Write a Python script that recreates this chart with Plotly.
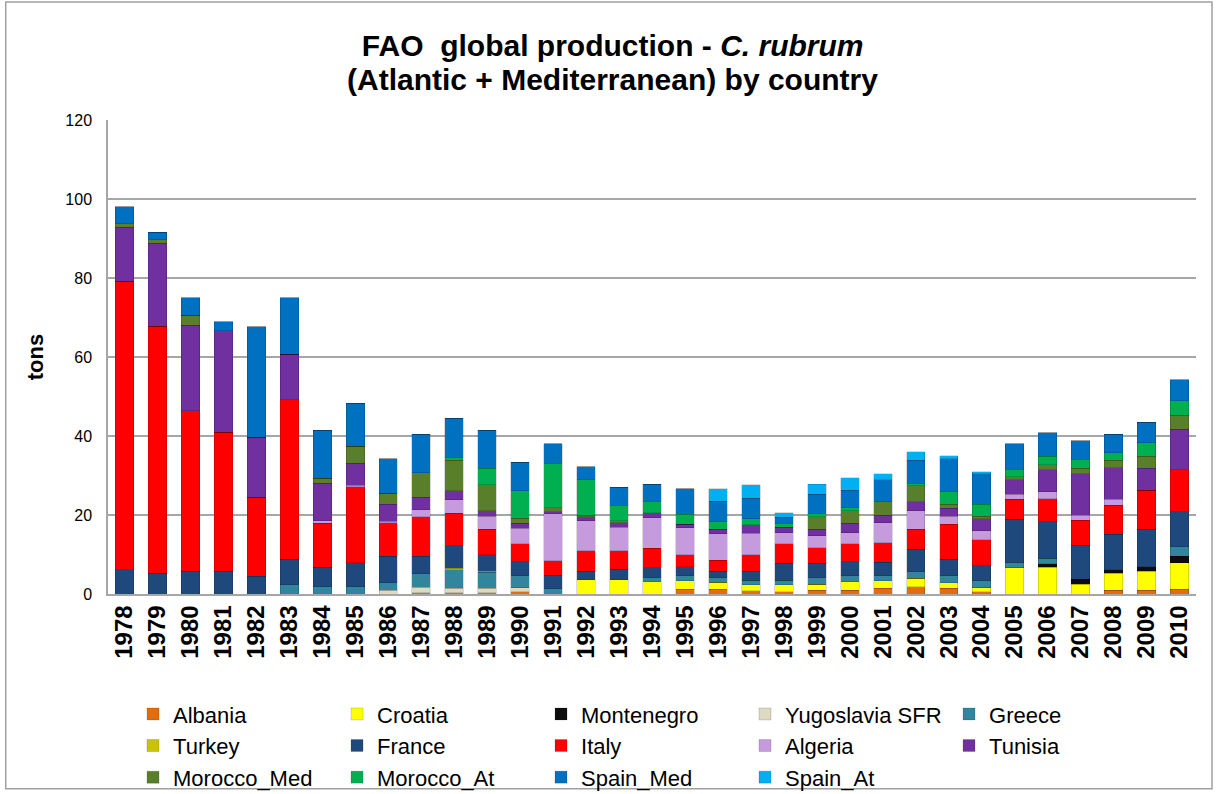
"""FAO global production of C. rubrum by country - stacked bars."""

import plotly.graph_objects as go

YEARS = [str(y) for y in range(1978, 2011)]

ALBANIA = [0, 0, 0, 0, 0, 0, 0, 0, 0, 0.3,
           0.3, 0.3, 0.6, 0, 0, 0, 0, 1.2, 1.2, 0.8,
           0.6, 1.0, 1.0, 1.4, 1.9, 1.4, 0.6, 0, 0, 0,
           1.0, 1.0, 1.2]
CROATIA = [0, 0, 0, 0, 0, 0, 0, 0, 0, 0,
           0, 0, 0, 0, 3.6, 3.6, 3.1, 2.1, 1.8, 1.6,
           1.7, 1.5, 2.1, 2.0, 2.1, 1.5, 1.1, 6.8, 6.8, 2.5,
           4.2, 4.7, 6.7]
MONTENEGRO = [0, 0, 0, 0, 0, 0, 0, 0, 0, 0,
              0, 0, 0, 0, 0, 0, 0, 0, 0, 0,
              0, 0, 0, 0, 0, 0, 0, 0, 0.9, 1.2,
              1.0, 1.2, 1.6]
YUGOSLAVIA = [0, 0, 0, 0, 0, 0, 0, 0, 1.0, 1.4,
              1.2, 1.2, 1.0, 0, 0, 0, 0, 0, 0, 0,
              0, 0, 0, 0, 0, 0, 0, 0, 0, 0,
              0, 0, 0]
GREECE = [0, 0, 0, 0, 0, 2.3, 1.8, 1.8, 1.9, 3.4,
          4.6, 4.0, 3.0, 1.3, 0, 0, 1.0, 1.3, 1.1, 1.1,
          1.2, 1.6, 1.7, 1.4, 1.8, 1.9, 1.6, 1.1, 1.3, 0,
          0, 0, 2.5]
TURKEY = [0, 0, 0, 0, 0, 0, 0, 0, 0, 0,
          0.4, 0.3, 0, 0, 0, 0, 0, 0, 0, 0,
          0, 0, 0, 0, 0, 0, 0, 0, 0, 0,
          0, 0, 0]
FRANCE = [6.2, 5.2, 5.8, 5.8, 4.5, 6.5, 5.0, 6.1, 6.7, 4.5,
          5.7, 4.1, 3.6, 3.5, 2.1, 2.7, 2.6, 2.3, 1.6, 2.2,
          4.3, 3.7, 3.4, 3.2, 5.5, 4.0, 3.9, 11.0, 9.3, 8.7,
          8.9, 9.5, 8.8]
ITALY = [73.0, 62.6, 40.6, 35.1, 20.0, 40.4, 11.1, 19.2, 8.4, 10.0,
         8.2, 6.5, 4.5, 3.6, 5.2, 4.6, 4.9, 3.0, 2.9, 4.3,
         4.9, 3.9, 4.5, 5.0, 5.1, 8.8, 6.5, 5.1, 5.8, 6.3,
         7.4, 9.9, 10.6]
ALGERIA = [0, 0, 0, 0, 0, 0, 0.7, 0.4, 0.4, 1.7,
           3.4, 3.3, 3.9, 11.9, 7.7, 6.0, 7.7, 6.9, 6.6, 5.4,
           2.8, 3.1, 2.8, 5.1, 4.7, 2.1, 2.3, 1.2, 1.8, 1.3,
           1.5, 0, 0]
TUNISIA = [13.7, 21.0, 21.7, 25.7, 15.2, 11.5, 9.4, 5.6, 4.3, 3.2,
           2.4, 1.4, 1.3, 0.5, 1.0, 1.2, 1.3, 0.8, 1.2, 2.1,
           1.4, 1.6, 2.4, 1.9, 2.3, 2.0, 3.0, 3.7, 5.5, 10.5,
           8.0, 5.5, 10.3]
MOROCCO_MED = [0.8, 0.9, 2.5, 0, 0, 0, 1.3, 4.3, 2.8, 6.2,
               7.6, 6.5, 1.3, 1.1, 0.4, 0.5, 0, 0, 0, 0,
               0, 3.2, 3.2, 3.4, 4.0, 1.0, 0.7, 0.8, 1.3, 1.3,
               1.9, 3.1, 3.6]
MOROCCO_AT = [0, 0, 0, 0, 0, 0, 0, 0, 0, 0,
              0.8, 4.2, 7.0, 11.2, 8.9, 3.9, 2.9, 2.6, 1.9, 1.5,
              1.0, 0.8, 0.8, 0, 0.6, 3.2, 3.0, 1.9, 2.2, 2.3,
              1.9, 3.4, 3.6]
SPAIN_MED = [4.3, 1.9, 4.4, 2.3, 27.9, 14.3, 12.2, 10.9, 8.7, 9.7,
             9.9, 9.7, 7.1, 5.0, 3.3, 4.5, 4.3, 6.4, 5.2, 5.2,
             1.5, 4.9, 4.4, 5.5, 5.8, 8.4, 7.8, 6.5, 5.9, 4.7,
             4.6, 5.2, 5.4]
SPAIN_AT = [0, 0, 0, 0, 0, 0, 0, 0, 0, 0,
            0, 0, 0, 0, 0, 0, 0, 0, 3.1, 3.4,
            1.2, 2.5, 3.1, 1.5, 2.2, 0.7, 0.5, 0, 0, 0,
            0, 0, 0]

SERIES = [
    ("Albania", ALBANIA, "#E46C0A"),
    ("Croatia", CROATIA, "#FFFF00"),
    ("Montenegro", MONTENEGRO, "#0D0D0D"),
    ("Yugoslavia SFR", YUGOSLAVIA, "#DDD9C3"),
    ("Greece", GREECE, "#31859C"),
    ("Turkey", TURKEY, "#C9C400"),
    ("France", FRANCE, "#1F497D"),
    ("Italy", ITALY, "#FF0000"),
    ("Algeria", ALGERIA, "#C59BDE"),
    ("Tunisia", TUNISIA, "#7030A0"),
    ("Morocco_Med", MOROCCO_MED, "#5A7F2A"),
    ("Morocco_At", MOROCCO_AT, "#00B050"),
    ("Spain_Med", SPAIN_MED, "#0070C0"),
    ("Spain_At", SPAIN_AT, "#00B0F0"),
]

FONT = "Liberation Sans, Arial, sans-serif"
GRID = "#A6A6A6"

fig = go.Figure()
for name, values, color in SERIES:
    fig.add_trace(go.Bar(
        name=name,
        x=YEARS,
        y=values,
        marker=dict(color=color, line=dict(color="rgba(0,0,0,0.25)", width=0.6)),
    ))

fig.update_layout(
    width=1218,
    height=794,
    barmode="stack",
    bargap=0.44,
    paper_bgcolor="white",
    plot_bgcolor="white",
    font=dict(family=FONT, color="black"),
    margin=dict(l=108, r=22, t=120, b=200),
    title=dict(
        text="FAO  global production - <i>C. rubrum</i>",
        x=0.503, xanchor="center",
        y=1 - 45 / 794, yanchor="middle",
        font=dict(size=30, family=FONT, weight="bold"),
    ),
    xaxis=dict(
        tickangle=-90,
        tickfont=dict(size=24, weight="bold"),
        showline=True, linecolor=GRID, linewidth=1.5,
        showgrid=False,
    ),
    yaxis=dict(
        range=[0, 120],
        dtick=20,
        tickfont=dict(size=16),
        ticklabelstandoff=11,
        showgrid=True, gridcolor=GRID, gridwidth=1.5,
        showline=True, linecolor=GRID, linewidth=1.5,
        zeroline=False,
        title=dict(text="<b>tons</b>", font=dict(size=22), standoff=16),
    ),
    legend=dict(
        orientation="h",
        traceorder="normal",
        xref="paper", x=0.023, xanchor="left",
        yref="container", y=0.127, yanchor="top",
        font=dict(size=22),
        entrywidth=159,
        itemwidth=30,
        tracegroupgap=0,
        bgcolor="rgba(0,0,0,0)",
    ),
    showlegend=True,
)

# second title line, placed separately to keep the tighter line spacing
fig.add_annotation(
    text="<b>(Atlantic + Mediterranean) by country</b>",
    xref="paper", yref="paper",
    x=(612 - 108) / 1088, y=1 + (120 - 79) / 474,
    xanchor="center", yanchor="middle",
    showarrow=False,
    font=dict(size=30, family=FONT),
)

# grey frame round the whole chart
fig.add_shape(
    type="rect", xref="paper", yref="paper",
    x0=-0.094, x1=1.0147, y0=-0.411, y1=1.249,
    line=dict(color="#A0A0A0", width=1.5),
    fillcolor="rgba(0,0,0,0)", layer="below",
)

fig.write_html(
    "out.html",
    config={"displayModeBar": False},
    post_script="document.body.style.margin='0';document.body.style.overflow='hidden';",
)
